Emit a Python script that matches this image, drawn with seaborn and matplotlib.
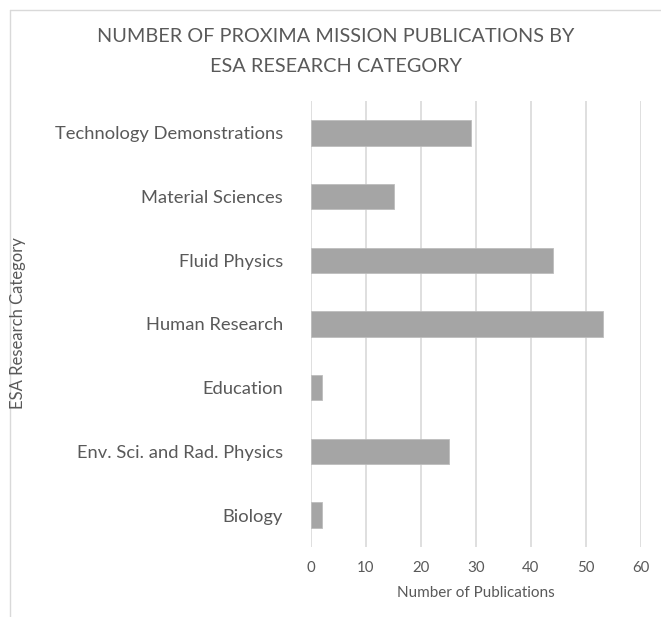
import matplotlib
matplotlib.use("Agg")
import matplotlib.pyplot as plt
import seaborn as sns
import pandas as pd

categories = ["Technology Demonstrations", "Material Sciences", "Fluid Physics",
              "Human Research", "Education", "Env. Sci. and Rad. Physics", "Biology"]
publications = [29, 15, 44, 53, 2, 25, 2]
x_ticks = [0, 10, 20, 30, 40, 50, 60]

df = pd.DataFrame({"category": categories, "publications": publications})

sns.set_theme(style="white")
plt.rcParams["font.family"] = ["Lato", "DejaVu Sans"]

fig = plt.figure(figsize=(6.61, 6.17), dpi=100)
ax = fig.add_axes([311 / 661, 1 - 547 / 617, 330 / 661, 446 / 617])

sns.barplot(data=df, y="category", x="publications", orient="h",
            color="#a5a5a5", saturation=1, width=0.4, ax=ax,
            edgecolor="#bdbdbd", linewidth=0.6)

ax.set_xlim(0, 60)
ax.set_xticks(x_ticks)
ax.grid(axis="x", color="#d9d9d9", linewidth=1.2)
ax.grid(axis="y", visible=False)
ax.set_axisbelow(True)
for s in ["top", "right", "bottom", "left"]:
    ax.spines[s].set_visible(False)

ax.tick_params(axis="both", length=0, colors="#595959")
ax.tick_params(axis="y", labelsize=13.2, pad=20)
ax.tick_params(axis="x", labelsize=10.8, pad=10)
ax.set_xlabel("Number of Publications", fontsize=11, color="#595959", labelpad=8)
ax.set_ylabel("")

fig.text(18 / 661, 1 - 323 / 617, "ESA Research Category", rotation=90,
         ha="center", va="center", fontsize=12, color="#595959")

fig.text(336 / 661, 1 - 36 / 617, "NUMBER OF PROXIMA MISSION PUBLICATIONS BY",
         ha="center", va="center", fontsize=14.3, color="#595959")
fig.text(336 / 661, 1 - 67 / 617, "ESA RESEARCH CATEGORY",
         ha="center", va="center", fontsize=14.3, color="#595959")

# light chart frame (only left/top visible in the crop)
fig.add_artist(plt.Line2D([10 / 661, 10 / 661], [0, 1 - 10 / 617],
                          transform=fig.transFigure, color="#d9d9d9", linewidth=1))
fig.add_artist(plt.Line2D([10 / 661, 1], [1 - 10 / 617, 1 - 10 / 617],
                          transform=fig.transFigure, color="#d9d9d9", linewidth=1))

fig.savefig("out.png", dpi=100)
